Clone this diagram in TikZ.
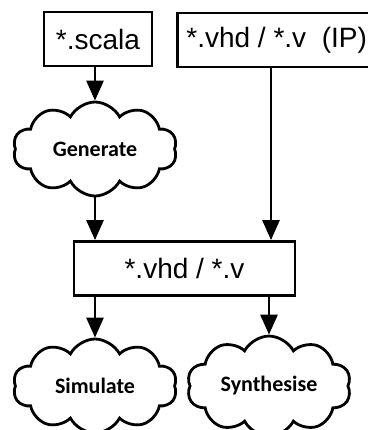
\documentclass[tikz,border=0pt]{standalone}
\usepackage{fontspec}
\setmainfont{Liberation Sans}
\newfontfamily\cloudfont{Carlito}
\usetikzlibrary{arrows.meta,shapes.symbols,positioning}

\begin{document}
\begin{tikzpicture}[x=1pt,y=-1pt,line width=2.8pt]
\tikzstyle{filebox}=[draw=black,rectangle,minimum height=54pt,font=\fontsize{28}{30}\selectfont]
\tikzstyle{task}=[draw=black,cloud,cloud puffs=10,cloud puff arc=125,aspect=1.75,
  minimum width=164pt,minimum height=94pt,inner sep=0pt,font=\cloudfont\bfseries\fontsize{22}{24}\selectfont]
\tikzstyle{flow}=[-{Triangle[length=20pt,width=17pt]}]
\useasboundingbox (0,0) rectangle (367,430);
% sources
\node[filebox,minimum width=108pt] (scala) at (98,39) {*.scala};
\node[filebox,anchor=west,inner xsep=9pt] (ip) at (176,40) {*.vhd / *.v\ \ (IP)};
\coordinate (ipx) at (271,0);
% generated hdl
\node[task] (gen) at (95,149) {Generate};
\node[filebox,minimum width=221pt] (hdl) at (184.5,268.5) {*.vhd / *.v};
% tools
\node[task] (sim) at (95,386) {Simulate};
\node[task] (syn) at (269,386) {Synthesise};
\draw[flow] (scala.south -| gen.north) -- (gen.north);
\draw[flow] (gen.south) -- (gen.south |- hdl.north);
\draw[flow] (ip.south -| ipx) -- (hdl.north -| ipx);
\draw[flow] (hdl.south -| sim.north) -- (sim.north);
\draw[flow] (hdl.south -| syn.north) -- (syn.north);
\end{tikzpicture}
\end{document}
